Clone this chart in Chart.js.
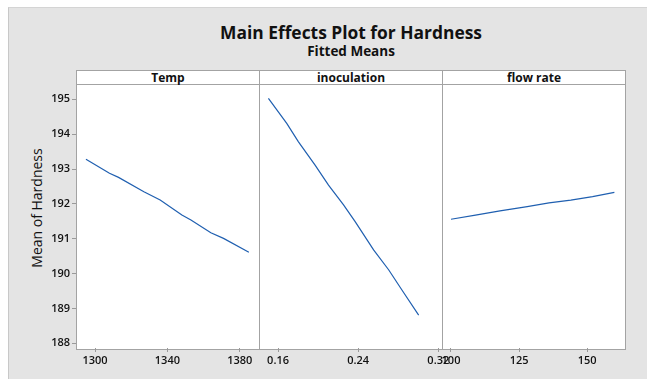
<!DOCTYPE html>
<html>
<head>
<meta charset="utf-8">
<script src="https://cdn.jsdelivr.net/npm/chart.js@4.4.1/dist/chart.umd.min.js"></script>
<style>
  html, body { margin: 0; padding: 0; background: #fff; }
  body { width: 647px; height: 379px; position: relative; overflow: hidden; font-family: 'Open Sans', 'Noto Sans', sans-serif; color: #111; }
  #frame { position: absolute; left: 8px; top: 7px; right: 0; bottom: 0; background: #e4e4e4; border-left: 1px solid #c8c8c8; border-top: 1px solid #d4d4d4; }
  .txt { position: absolute; white-space: nowrap; transform: translate(-50%, -50%); }
  #title { left: 351px; top: 32px; font-size: 17.4px; font-weight: 700; }
  #subtitle { left: 351px; top: 51px; font-size: 13.5px; font-weight: 700; }
  #ylabel { left: 36px; top: 208px; font-size: 14px; transform: translate(-50%, -50%) rotate(-90deg); }
  .panel { position: absolute; top: 70px; height: 278px; background: #fff; border: 1px solid #a3a3a3; box-sizing: content-box; }
  .strip { position: absolute; left: 0; right: 0; top: 0; height: 13px; border-bottom: 1px solid #a3a3a3; text-align: center; font-size: 12px; font-weight: 700; line-height: 13px; }
  canvas { position: absolute; }
</style>
</head>
<body>
<div id="frame"></div>
<div class="txt" id="title">Main Effects Plot for Hardness</div>
<div class="txt" id="subtitle">Fitted Means</div>
<div class="txt" id="ylabel">Mean of Hardness</div>

<div class="panel" style="left:76px; width:182px;"><div class="strip">Temp</div></div>
<div class="panel" style="left:259px; width:182px;"><div class="strip">inoculation</div></div>
<div class="panel" style="left:442px; width:182px;"><div class="strip">flow rate</div></div>

<canvas id="c1" width="290" height="305" style="left:0px; top:74px;"></canvas>
<canvas id="c2" width="240" height="305" style="left:230px; top:74px;"></canvas>
<canvas id="c3" width="227" height="305" style="left:420px; top:74px;"></canvas>

<script>
// fitted means for each factor
const tempLevels = [1295, 1308, 1313, 1327, 1336, 1348, 1353, 1364, 1371, 1385];
const tempMeans = [193.28, 192.88, 192.76, 192.35, 192.11, 191.68, 191.54, 191.17, 191.01, 190.61];

const inocLevels = [0.1504, 0.1687, 0.1804, 0.197, 0.2104, 0.2254, 0.237, 0.2554, 0.2704, 0.2837, 0.3004];
const inocMeans = [195.03, 194.31, 193.78, 193.11, 192.54, 191.97, 191.49, 190.68, 190.11, 189.53, 188.81];

const flowLevels = [100, 109, 118, 128, 136, 144, 152, 160];
const flowMeans = [191.56, 191.68, 191.80, 191.92, 192.03, 192.11, 192.21, 192.33];

// tick labels
const hardnessTicks = [188, 189, 190, 191, 192, 193, 194, 195];
const tempTicks = [1300, 1340, 1380];
const inocTicks = [0.16, 0.24, 0.32];
const flowTicks = [100, 125, 150];

const Y_MIN = 187.865;
const Y_MAX = 195.44;
const LINE_COLOR = '#1f5fb0';
const TICK_FONT = { family: "'Open Sans', sans-serif", size: 11, weight: '600' };

function setTicks(values) {
    return scale => { scale.ticks = values.map(v => ({ value: v })); };
}

function makePanel(id, levels, means, xMin, xMax, xTicks, fmt, pad, showY) {
    const ctx = document.getElementById(id).getContext('2d');
    return new Chart(ctx, {
        type: 'line',
        data: {
            datasets: [{
                data: levels.map((x, i) => ({ x: x, y: means[i] })),
                borderColor: LINE_COLOR,
                borderWidth: 1.2,
                pointRadius: 0,
                tension: 0,
                fill: false
            }]
        },
        options: {
            responsive: false,
            animation: false,
            devicePixelRatio: 1,
            layout: { padding: pad },
            plugins: { legend: { display: false }, tooltip: { enabled: false } },
            scales: {
                x: {
                    type: 'linear',
                    min: xMin,
                    max: xMax,
                    afterBuildTicks: setTicks(xTicks),
                    afterFit: s => { s.height = 31; s.paddingLeft = 0; s.paddingRight = 0; },
                    grid: { drawOnChartArea: false, drawTicks: true, tickLength: 4, color: '#9a9a9a' },
                    border: { display: false },
                    ticks: { autoSkip: false, maxRotation: 0, padding: 2, color: '#111', font: TICK_FONT, callback: fmt }
                },
                y: {
                    type: 'linear',
                    display: showY,
                    min: Y_MIN,
                    max: Y_MAX,
                    afterBuildTicks: setTicks(hardnessTicks),
                    afterFit: s => {
                        // only the first panel carries the hardness axis
                        if (showY) s.width = 76;
                        s.paddingTop = 0;
                        s.paddingBottom = 0;
                    },
                    grid: { drawOnChartArea: false, drawTicks: true, tickLength: 4, color: '#9a9a9a' },
                    border: { display: false },
                    ticks: { autoSkip: false, padding: 2, color: '#111', font: TICK_FONT }
                }
            }
        }
    });
}

makePanel('c1', tempLevels, tempMeans, 1289.5, 1390.6, tempTicks, v => String(v),
    { left: 0, right: 31, top: 10, bottom: 0 }, true);
makePanel('c2', inocLevels, inocMeans, 0.141, 0.3237, inocTicks, v => v.toFixed(2),
    { left: 29, right: 28, top: 10, bottom: 0 }, false);
makePanel('c3', flowLevels, flowMeans, 96.7, 163.9, flowTicks, v => String(v),
    { left: 22, right: 22, top: 10, bottom: 0 }, false);
</script>
</body>
</html>
